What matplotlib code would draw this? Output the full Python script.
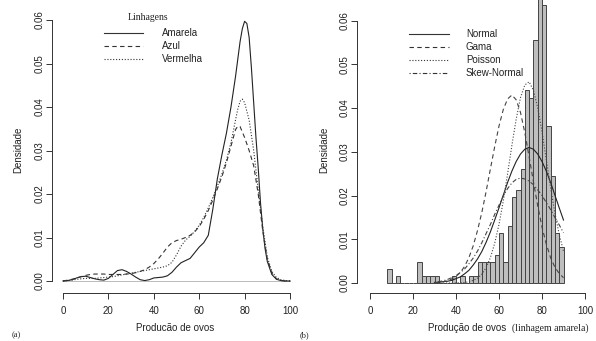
import numpy as np
import matplotlib.pyplot as plt
from matplotlib.lines import Line2D

# ---- data ----
# (a) density curves per lineage
amarela_x = [0, 2, 4, 6, 8, 10, 12, 14, 16, 18, 20, 22, 24, 26, 28, 30, 32, 34, 36, 38, 40, 42, 44, 46, 48,
             50, 52, 54, 56, 58, 60, 62, 64, 66, 68, 70, 72, 74, 76, 78, 79, 80, 81, 82, 83, 84, 85, 86, 87,
             88, 89, 90, 92, 94, 96, 98, 100]
amarela_y = [0.0000, 0.0001, 0.0003, 0.0007, 0.0010, 0.0011, 0.0008, 0.0005, 0.0003, 0.0002, 0.0006, 0.0015,
             0.0024, 0.0026, 0.0022, 0.0016, 0.0009, 0.0003, 0.0001, 0.0003, 0.0007, 0.0008, 0.0009, 0.0012,
             0.0020, 0.0032, 0.0042, 0.0047, 0.0052, 0.0065, 0.0078, 0.0088, 0.0105, 0.0165, 0.0235, 0.0290,
             0.0340, 0.0400, 0.0470, 0.0550, 0.0580, 0.0597, 0.0592, 0.0560, 0.0490, 0.0410, 0.0330, 0.0260,
             0.0180, 0.0120, 0.0075, 0.0045, 0.0015, 0.0004, 0.0001, 0.0000, 0.0000]

azul_x = [0, 2, 4, 6, 8, 10, 12, 14, 16, 18, 20, 22, 24, 26, 28, 30, 32, 34, 36, 38, 40, 42, 44, 46, 48,
          50, 52, 54, 56, 58, 60, 62, 64, 66, 68, 70, 72, 74, 76, 77, 78, 80, 82, 84, 86, 88, 90, 92, 94,
          96, 98, 100]
azul_y = [0.0000, 0.0002, 0.0004, 0.0007, 0.0010, 0.0013, 0.0015, 0.0016, 0.0016, 0.0016, 0.0015, 0.0015,
          0.0015, 0.0015, 0.0016, 0.0017, 0.0019, 0.0022, 0.0026, 0.0032, 0.0040, 0.0051, 0.0064, 0.0078,
          0.0088, 0.0093, 0.0096, 0.0100, 0.0105, 0.0113, 0.0125, 0.0142, 0.0162, 0.0186, 0.0212, 0.0240,
          0.0272, 0.0310, 0.0348, 0.0356, 0.0355, 0.0330, 0.0300, 0.0265, 0.0200, 0.0115, 0.0050, 0.0018,
          0.0005, 0.0001, 0.0000, 0.0000]

vermelha_x = [0, 2, 4, 6, 8, 10, 12, 14, 16, 18, 20, 22, 24, 26, 28, 30, 32, 34, 36, 38, 40, 42, 44, 46, 48,
              50, 52, 54, 56, 58, 60, 62, 64, 66, 68, 70, 72, 74, 76, 77, 78, 79, 80, 82, 84, 86, 88, 90, 92,
              94, 96, 98, 100]
vermelha_y = [0.0000, 0.0001, 0.0002, 0.0004, 0.0005, 0.0006, 0.0006, 0.0006, 0.0007, 0.0008, 0.0009, 0.0010,
              0.0012, 0.0014, 0.0016, 0.0018, 0.0020, 0.0022, 0.0024, 0.0026, 0.0028, 0.0030, 0.0032, 0.0035,
              0.0043, 0.0060, 0.0080, 0.0094, 0.0103, 0.0114, 0.0128, 0.0146, 0.0168, 0.0192, 0.0218, 0.0246,
              0.0278, 0.0318, 0.0370, 0.0395, 0.0413, 0.0418, 0.0410, 0.0370, 0.0300, 0.0210, 0.0125, 0.0055,
              0.0022, 0.0008, 0.0003, 0.0001, 0.0000]

# (b) histogram of yellow lineage (bins of width 2 starting at 8) and fitted curves
bin_left = list(range(8, 90, 2))
hist_density = [0.0033, 0, 0.0016, 0, 0, 0, 0, 0.0049, 0.0016, 0.0016, 0.0016, 0.0016, 0, 0, 0,
                0.0016, 0, 0.0016, 0, 0.0016, 0.0016, 0.0049, 0.0049, 0.0049, 0.0049, 0.0065, 0.0114,
                0.0049, 0.0131, 0.0196, 0.0212, 0.0261, 0.0441, 0.0424, 0.0555, 0.0686, 0.0637, 0.0359,
                0.0245, 0.0114, 0.0082]

fit_x = list(range(30, 91, 2))
normal_y = [0.0001, 0.0002, 0.0003, 0.0004, 0.0006, 0.0010, 0.0014, 0.0021, 0.0029, 0.0041, 0.0055,
            0.0072, 0.0093, 0.0117, 0.0144, 0.0172, 0.0201, 0.0230, 0.0256, 0.0278, 0.0295, 0.0306,
            0.0310, 0.0306, 0.0295, 0.0278, 0.0256, 0.0230, 0.0201, 0.0172, 0.0144]
gama_y = [0.0001, 0.0001, 0.0003, 0.0005, 0.0009, 0.0015, 0.0024, 0.0038, 0.0058, 0.0085, 0.0120,
          0.0161, 0.0209, 0.0261, 0.0312, 0.0359, 0.0397, 0.0421, 0.0430, 0.0419, 0.0390, 0.0344,
          0.0289, 0.0232, 0.0177, 0.0128, 0.0089, 0.0058, 0.0036, 0.0022, 0.0012]
poisson_y = [0.0000, 0.0000, 0.0000, 0.0000, 0.0000, 0.0000, 0.0001, 0.0001, 0.0003, 0.0006, 0.0011,
             0.0020, 0.0035, 0.0058, 0.0091, 0.0134, 0.0188, 0.0250, 0.0315, 0.0375, 0.0424, 0.0453,
             0.0460, 0.0441, 0.0401, 0.0346, 0.0282, 0.0218, 0.0160, 0.0111, 0.0073]
skew_y = [0.0002, 0.0003, 0.0005, 0.0008, 0.0012, 0.0017, 0.0024, 0.0032, 0.0044, 0.0057, 0.0073,
          0.0092, 0.0113, 0.0134, 0.0157, 0.0178, 0.0199, 0.0216, 0.0229, 0.0237, 0.0240, 0.0238,
          0.0233, 0.0225, 0.0213, 0.0200, 0.0184, 0.0168, 0.0150, 0.0133, 0.0115]

x_ticks = [0, 20, 40, 60, 80, 100]
y_ticks = [0.00, 0.01, 0.02, 0.03, 0.04, 0.05, 0.06]
left_names = ["Amarela", "Azul", "Vermelha"]
right_names = ["Normal", "Gama", "Poisson", "Skew-Normal"]

# ---- styling ----
W, H = 596, 341
SANS = ["Liberation Sans", "DejaVu Sans"]
SERIF = ["Liberation Serif", "DejaVu Serif"]
FS = 7
INK = "#222222"
plt.rcParams["font.family"] = SANS
plt.rcParams["font.size"] = FS

solid = "-"
dashed = (0, (4, 3))
dotted = (0, (1, 1.6))
dashdot = (0, (1, 2, 4, 2))

fig = plt.figure(figsize=(W / 100, H / 100), dpi=100)


def px_axes(x0, x1, y0, y1):
    return fig.add_axes([x0 / W, 1 - y1 / H, (x1 - x0) / W, (y1 - y0) / H])


def r_style(ax, spine_x, spine_y):
    for s in ["top", "right"]:
        ax.spines[s].set_visible(False)
    ax.spines["left"].set_position(("data", spine_x))
    ax.spines["bottom"].set_position(("data", spine_y))
    ax.spines["left"].set_bounds(0, 0.06)
    ax.spines["bottom"].set_bounds(0, 100)
    for s in ["left", "bottom"]:
        ax.spines[s].set_color("#333333")
        ax.spines[s].set_linewidth(0.7)
    ax.set_xticks(x_ticks)
    ax.set_xticklabels([str(t) for t in x_ticks])
    ax.set_yticks(y_ticks)
    ax.set_yticklabels([f"{t:.2f}" for t in y_ticks], rotation=90, va="center")
    ax.tick_params(axis="both", length=4, width=0.7, color="#333333", labelcolor=INK, labelsize=FS)
    ax.tick_params(axis="x", pad=5)
    ax.tick_params(axis="y", pad=1.5)
    ax.set_facecolor("none")


def legend_rows(x0, x1, xt, ys, names, styles):
    for y, name, ls in zip(ys, names, styles):
        fig.add_artist(Line2D([x0 / W, x1 / W], [1 - y / H, 1 - y / H], color="#333333",
                              lw=0.8, linestyle=ls))
        fig.text(xt / W, 1 - y / H, name, ha="left", va="center", color=INK, fontsize=FS)


# ---- (a) ----
ax1 = px_axes(40, 300, 0, 300)
ax1.set_xlim((40 - 63) / 2.27, (300 - 63) / 2.27)
ax1.set_ylim((281 - 300) / 4350, 281 / 4350)
ax1.plot([0, 100], [0, 0], color="#bbbbbb", lw=0.7)
ax1.plot(amarela_x, amarela_y, color="#222222", lw=0.8, linestyle=solid)
ax1.plot(azul_x, azul_y, color="#333333", lw=0.8, linestyle=dashed)
ax1.plot(vermelha_x, vermelha_y, color="#333333", lw=0.8, linestyle=dotted)
r_style(ax1, (52 - 63) / 2.27, (281 - 293) / 4350)

fig.text(148 / W, 1 - 17 / H, "Linhagens", ha="center", va="center", family=SERIF, fontsize=FS, color=INK)
legend_rows(104, 143, 162, [33, 46, 59], left_names, [solid, dashed, dotted])
fig.text(18 / W, 1 - 150 / H, "Densidade", rotation=90, ha="center", va="center", color=INK)
fig.text(175 / W, 1 - 328 / H, "Producão de ovos", ha="center", va="center", color=INK)
fig.text(12 / W, 1 - 331 / H, "(a)", ha="left", va="top", family=SERIF, fontsize=6, color=INK)

# ---- (b) ----
ax2 = px_axes(345, 596, 0, 300)
ax2.set_xlim((345 - 370) / 2.15, (596 - 370) / 2.15)
ax2.set_ylim((283 - 300) / 4372, 283 / 4372)
ax2.bar(bin_left, hist_density, width=2, align="edge", color="#bebebe", edgecolor="#444444", linewidth=0.7)
ax2.plot(fit_x, normal_y, color="#222222", lw=0.8, linestyle=solid)
ax2.plot(fit_x, gama_y, color="#444444", lw=0.8, linestyle=dashed)
ax2.plot(fit_x, poisson_y, color="#444444", lw=0.8, linestyle=dotted)
ax2.plot(fit_x, skew_y, color="#444444", lw=0.8, linestyle=dashdot)
r_style(ax2, (357 - 370) / 2.15, (283 - 293) / 4372)

legend_rows(409, 449, 466, [34, 47, 60, 73], right_names, [solid, dashed, dotted, dashdot])
fig.text(324 / W, 1 - 150 / H, "Densidade", rotation=90, ha="center", va="center", color=INK)
fig.text(512 / W, 1 - 328 / H, "Produção de ovos  ", ha="right", va="center", color=INK)
fig.text(512 / W, 1 - 328 / H, "(linhagem amarela)", ha="left", va="center", family=SERIF, color=INK)
fig.text(300 / W, 1 - 331 / H, "(b)", ha="left", va="top", family=SERIF, fontsize=6, color=INK)

fig.savefig("out.png", dpi=100, facecolor="white")
